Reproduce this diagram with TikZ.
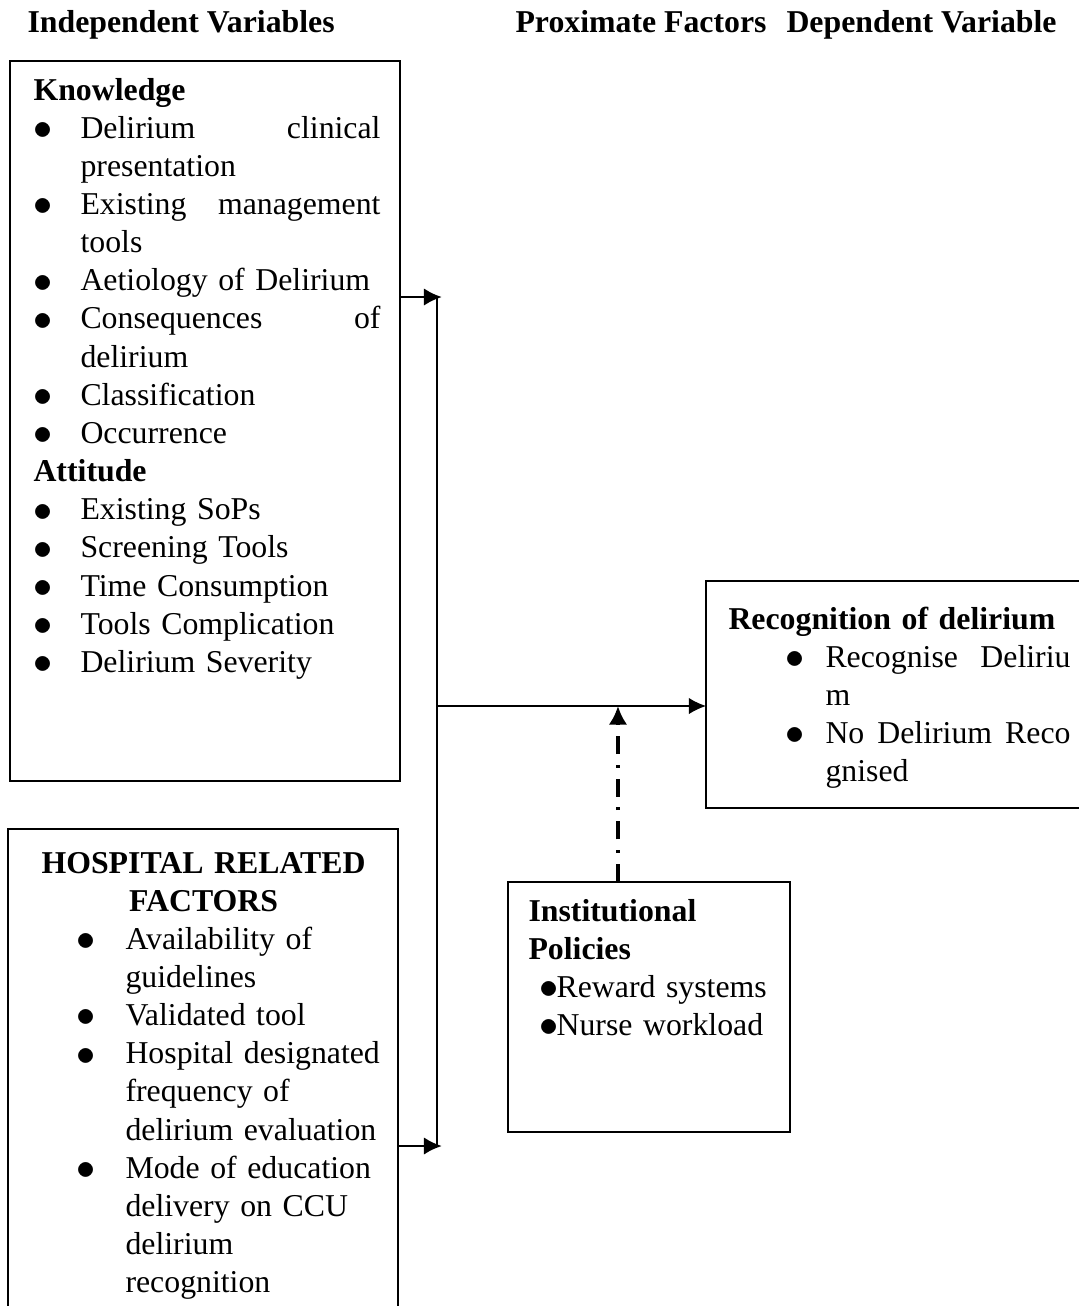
\documentclass[tikz,border=0pt]{standalone}
\usepackage{fontspec}
\setmainfont{Liberation Serif}
\usepackage{tikz}
\usetikzlibrary{calc, positioning, arrows.meta}

\newlength{\px}
\setlength{\px}{0.3774pt}
% bullet item with hanging indent
\newcommand{\blt}{\smash{\raisebox{-0.5pt}{\scalebox{1.2}{$\bullet$}}}}
\newcommand{\bul}[2][47]{\par\hangindent=#1\px\hangafter=1\noindent\makebox[#1\px][l]{\blt}#2}

\begin{document}
\begin{tikzpicture}[x=0.3774pt, y=-0.3774pt,
    box/.style={draw, line width=1.1pt, inner sep=0pt, outer sep=0pt, anchor=north west},
    txt/.style={inner sep=0pt, anchor=base west, font=\fontsize{12pt}{14.4pt}\selectfont},
    head/.style={txt, font=\fontsize{12pt}{14.4pt}\selectfont\bfseries},
    feed/.style={line width=1.1pt, -{Latex[length=6.8pt,width=6.6pt]}},
    policy/.style={line width=1.5pt, dash pattern=on 6.8pt off 4.2pt on 1.1pt off 4pt, -{Latex[length=7pt,width=7pt]}}]
        \useasboundingbox (0,0) rectangle (1079,1306);

        % column titles
        \node[head] (indep) at (27,32) {Independent Variables};
        \node[head] (prox) at (515,32) {Proximate Factors};
        \node[head] (dep) at (786,32) {Dependent Variable};

        % boxes
        \node[box, minimum width=390\px, minimum height=720\px] (know) at (10,61) {};
        \node[box, minimum width=390\px, minimum height=520\px] (hosp) at (8,829) {};
        \node[box, minimum width=400\px, minimum height=227\px] (recog) at (706,581) {};
        \node[box, minimum width=282\px, minimum height=250\px] (inst) at (508,882) {};

        \node[txt, text width=347\px] (knowtxt) at (33,100) {\raggedright
            \textbf{Knowledge}
            \bul{Delirium\hfill clinical\newline presentation}
            \bul{Existing\hfill management\newline tools}
            \bul{Aetiology of Delirium}
            \bul{Consequences\hfill of\newline delirium}
            \bul{Classification}
            \bul{Occurrence}
            \par\noindent\textbf{Attitude}
            \bul{Existing SoPs}
            \bul{Screening Tools}
            \bul{Time Consumption}
            \bul{Tools Complication}
            \bul{Delirium Severity}\par};

        \node[txt, text width=362\px] (hosptxt) at (28,873) {%
            {\centering\rightskip=12\px plus 1fil
            \textbf{HOSPITAL RELATED}\\\textbf{FACTORS}\par}
            \raggedright\leftskip=48\px
            \bul[49]{Availability of\newline guidelines}
            \bul[49]{Validated tool}
            \bul[49]{Hospital designated\newline frequency of\newline delirium evaluation}
            \bul[49]{Mode of education\newline delivery on CCU\newline delirium\newline recognition}\par};

        \node[txt, text width=342\px] (recogtxt) at (728,629) {\raggedright
            \textbf{Recognition of delirium}
            \par\leftskip=57\px
            \bul[40]{Recognise\hfill Deliriu\newline m}
            \bul[40]{No\hfill Delirium\hfill Reco\newline gnised}\par};

        \node[txt, text width=260\px] (insttxt) at (528,921) {\raggedright
            \textbf{Institutional}\newline\textbf{Policies}\newline
            \hspace*{11\px}\blt\hspace{-2\px}Reward systems\newline
            \hspace*{11\px}\blt\hspace{-2\px}Nurse workload\par};

        % connectors
        \coordinate (bartop) at (437,297);
        \coordinate (barbot) at (437,1146);
        \coordinate (barmid) at (437,706);
        \coordinate (polfoot) at ($(inst.north west)!0.39!(inst.north east)$);
        \draw[line width=1.1pt] (bartop) -- (barbot);
        \draw[feed] (know.east |- bartop) -- ++(42,0);
        \draw[feed] (hosp.east |- barbot) -- ++(44,0);
        \draw[line width=0.5pt, -{Latex[length=6.5pt,width=6.2pt]}] (barmid) -- (recog.west |- barmid);
        \draw[policy] (polfoot) -- (polfoot |- barmid);
    \end{tikzpicture}
\end{document}
